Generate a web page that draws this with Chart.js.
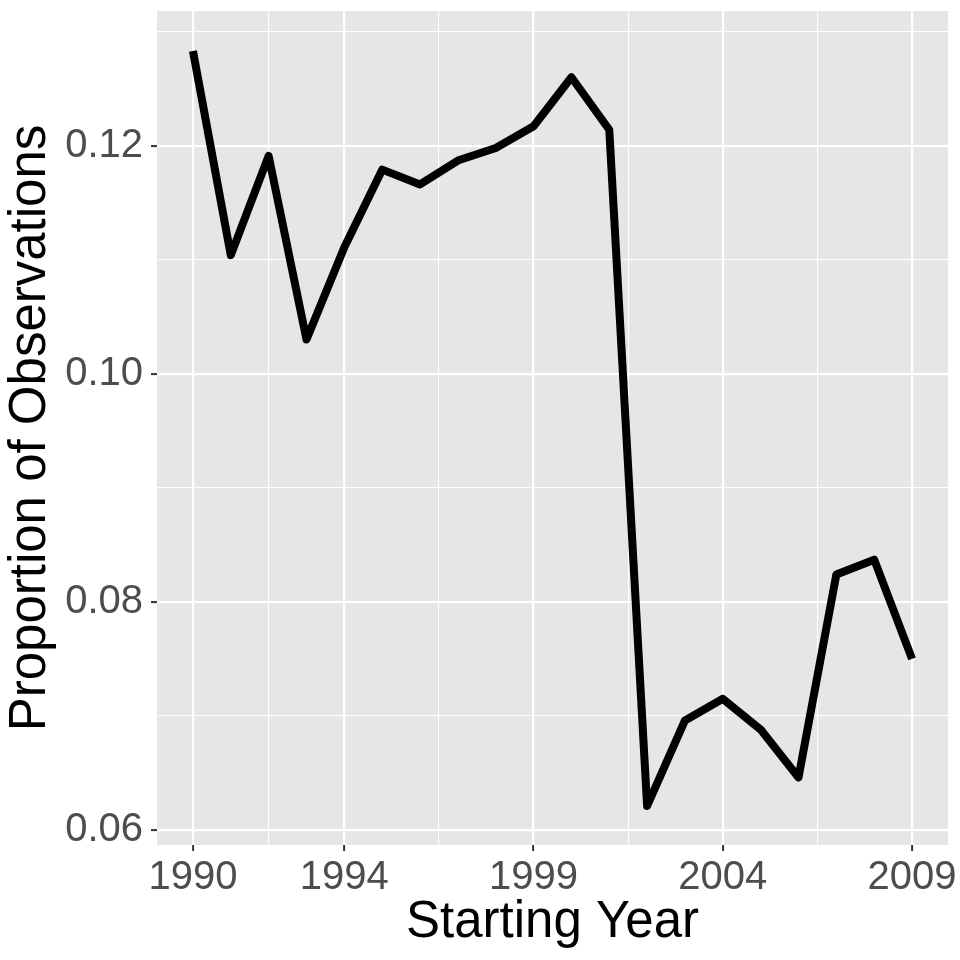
<!DOCTYPE html>
<html>
<head>
<meta charset="utf-8">
<script src="https://cdn.jsdelivr.net/npm/chart.js@4.4.0/dist/chart.umd.min.js"></script>
<style>
  html, body { margin: 0; padding: 0; background: #ffffff; }
  #wrap { width: 960px; height: 960px; }
</style>
</head>
<body>
<div id="wrap"><canvas id="chart" width="960" height="960"></canvas></div>
<script>
const years = [1990, 1991, 1992, 1993, 1994, 1995, 1996, 1997, 1998, 1999,
               2000, 2001, 2002, 2003, 2004, 2005, 2006, 2007, 2008, 2009];
const proportions = [0.1283, 0.1104, 0.1191, 0.1030, 0.1111, 0.1179, 0.1166, 0.1187, 0.1198, 0.1217,
                     0.1260, 0.1214, 0.0621, 0.0696, 0.0715, 0.0688, 0.0646, 0.0824, 0.0837, 0.0750];
const xMajorTicks = [1990, 1994, 1999, 2004, 2009];
const xMinorTicks = [1992, 1996.5, 2001.5, 2006.5];
const yMajorTicks = [0.06, 0.08, 0.10, 0.12];
const yMinorTicks = [0.07, 0.09, 0.11, 0.13];

const FONT = "'Liberation Sans', Arial, sans-serif";
const isIn = (list, v) => list.some((t) => Math.abs(t - v) < 1e-9);

// grey ggplot-style panel behind the grid
const panelBackground = {
  id: "panelBackground",
  beforeDraw(chart) {
    const { ctx, chartArea: a } = chart;
    ctx.save();
    ctx.fillStyle = "#E6E6E6";
    ctx.fillRect(a.left, a.top, a.right - a.left, a.bottom - a.top);
    ctx.restore();
  },
};

new Chart(document.getElementById("chart"), {
  type: "line",
  data: {
    datasets: [
      {
        data: years.map((y, i) => ({ x: y, y: proportions[i] })),
        borderColor: "#000000",
        borderWidth: 8,
        borderJoinStyle: "round",
        borderCapStyle: "butt",
        pointRadius: 0,
        tension: 0,
        fill: false,
      },
    ],
  },
  options: {
    responsive: false,
    devicePixelRatio: 1,
    animation: false,
    layout: { padding: { top: 11, right: 12, left: 0, bottom: 0 } },
    plugins: { legend: { display: false }, tooltip: { enabled: false } },
    scales: {
      x: {
        type: "linear",
        min: 1989.05,
        max: 2009.95,
        afterBuildTicks: (s) => {
          s.ticks = [...xMajorTicks, ...xMinorTicks].sort((a, b) => a - b).map((v) => ({ value: v }));
        },
        afterFit: (s) => {
          s.height = 115;
          s.paddingLeft = 0;
          s.paddingRight = 0;
        },
        border: { display: false },
        grid: {
          color: "#FFFFFF",
          lineWidth: (c) => (isIn(xMajorTicks, c.tick.value) ? 2.2 : 1.1),
          tickColor: (c) => (isIn(xMajorTicks, c.tick.value) ? "#333333" : "rgba(0,0,0,0)"),
          tickWidth: 2,
          tickLength: 6,
        },
        ticks: {
          autoSkip: false,
          maxRotation: 0,
          padding: 3,
          color: "#4D4D4D",
          font: { family: FONT, size: 40 },
          callback: (v) => (isIn(xMajorTicks, v) ? String(v) : ""),
        },
        title: {
          display: true,
          text: "Starting Year",
          color: "#000000",
          font: { family: FONT, size: 51 },
          padding: { top: 0, bottom: 6 },
        },
      },
      y: {
        type: "linear",
        min: 0.05868,
        max: 0.13181,
        afterBuildTicks: (s) => {
          s.ticks = [...yMajorTicks, ...yMinorTicks].sort((a, b) => a - b).map((v) => ({ value: v }));
        },
        afterFit: (s) => {
          s.width = 157;
          s.paddingTop = 0;
          s.paddingBottom = 0;
        },
        border: { display: false },
        grid: {
          color: "#FFFFFF",
          lineWidth: (c) => (isIn(yMajorTicks, c.tick.value) ? 2.2 : 1.1),
          tickColor: (c) => (isIn(yMajorTicks, c.tick.value) ? "#333333" : "rgba(0,0,0,0)"),
          tickWidth: 2,
          tickLength: 6,
        },
        ticks: {
          autoSkip: false,
          padding: 8,
          color: "#4D4D4D",
          font: { family: FONT, size: 40 },
          callback: (v) => (isIn(yMajorTicks, v) ? v.toFixed(2) : ""),
        },
        title: {
          display: true,
          text: "Proportion of Observations",
          color: "#000000",
          font: { family: FONT, size: 51 },
          padding: { top: 0, bottom: 0 },
        },
      },
    },
  },
  plugins: [panelBackground],
});
</script>
</body>
</html>
